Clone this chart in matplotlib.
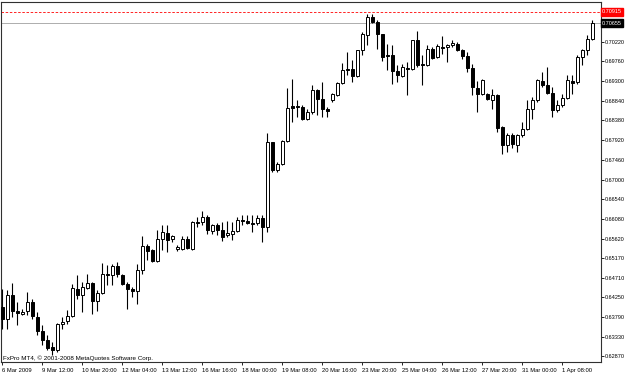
import matplotlib
matplotlib.use('Agg')
import matplotlib.pyplot as plt
import numpy as np

# H4 candles, EUR-ish pair
opens = [
    0.6402, 0.6374, 0.6430, 0.6393, 0.6386, 0.6393, 0.6414, 0.6379, 0.6346, 0.6325,
    0.6309, 0.6302, 0.6363, 0.6370, 0.6381, 0.6444, 0.6430, 0.6447, 0.6458, 0.6416,
    0.6435, 0.6479, 0.6477, 0.6498, 0.6477, 0.6456, 0.6444, 0.6440, 0.6489, 0.6545,
    0.6536, 0.6510, 0.6561, 0.6575, 0.6561, 0.6538, 0.6538, 0.6561, 0.6538, 0.6601,
    0.6601, 0.6613, 0.6580, 0.6594, 0.6582, 0.6571, 0.6573, 0.6580, 0.6606, 0.6603,
    0.6599, 0.6599, 0.6610, 0.6589, 0.6788, 0.6723, 0.6737, 0.6790, 0.6872, 0.6872,
    0.6870, 0.6842, 0.6858, 0.6909, 0.6888, 0.6865, 0.6886, 0.6898, 0.6926, 0.6958,
    0.6958, 0.6942, 0.7003, 0.7038, 0.7080, 0.7068, 0.7040, 0.6991, 0.6991, 0.6954,
    0.6942, 0.6961, 0.6959, 0.7026, 0.6970, 0.6968, 0.7005, 0.6987, 0.7010, 0.7010,
    0.7015, 0.7017, 0.7003, 0.6989, 0.6961, 0.6914, 0.6900, 0.6900, 0.6886, 0.6898,
    0.6823, 0.6781, 0.6804, 0.6781, 0.6804, 0.6818, 0.6865, 0.6886, 0.6930, 0.6921,
    0.6902, 0.6863, 0.6874, 0.6891, 0.6930, 0.6928, 0.6987, 0.7003, 0.7029]
highs = [
    0.6444, 0.6442, 0.6458, 0.6414, 0.6398, 0.6437, 0.6421, 0.6391, 0.6360, 0.6337,
    0.6321, 0.6365, 0.6379, 0.6395, 0.6456, 0.6477, 0.6461, 0.6479, 0.6461, 0.6442,
    0.6505, 0.6500, 0.6503, 0.6507, 0.6479, 0.6461, 0.6449, 0.6503, 0.6568, 0.6550,
    0.6538, 0.6582, 0.6594, 0.6594, 0.6571, 0.6547, 0.6568, 0.6568, 0.6603, 0.6613,
    0.6627, 0.6617, 0.6596, 0.6599, 0.6601, 0.6603, 0.6601, 0.6613, 0.6617, 0.6617,
    0.6617, 0.6617, 0.6617, 0.6809, 0.6788, 0.6741, 0.6793, 0.6914, 0.6935, 0.6886,
    0.6874, 0.6865, 0.6921, 0.6912, 0.6928, 0.6870, 0.6902, 0.6928, 0.6972, 0.6998,
    0.6980, 0.7003, 0.7045, 0.7087, 0.7087, 0.7073, 0.7040, 0.7017, 0.7015, 0.6968,
    0.6970, 0.6975, 0.7026, 0.7047, 0.6991, 0.7015, 0.7010, 0.7017, 0.7036, 0.7017,
    0.7026, 0.7022, 0.7005, 0.6998, 0.6970, 0.6930, 0.6935, 0.6902, 0.6912, 0.6900,
    0.6825, 0.6809, 0.6809, 0.6807, 0.6835, 0.6886, 0.6893, 0.6935, 0.6951, 0.6963,
    0.6916, 0.6886, 0.6900, 0.6944, 0.6944, 0.6991, 0.7005, 0.7038, 0.7073]
lows = [
    0.6351, 0.6351, 0.6379, 0.6360, 0.6384, 0.6384, 0.6374, 0.6337, 0.6314, 0.6302,
    0.6290, 0.6297, 0.6351, 0.6363, 0.6379, 0.6421, 0.6391, 0.6444, 0.6386, 0.6393,
    0.6433, 0.6454, 0.6454, 0.6472, 0.6454, 0.6398, 0.6426, 0.6409, 0.6479, 0.6512,
    0.6507, 0.6507, 0.6536, 0.6531, 0.6554, 0.6533, 0.6536, 0.6538, 0.6536, 0.6589,
    0.6594, 0.6573, 0.6573, 0.6571, 0.6557, 0.6566, 0.6559, 0.6578, 0.6594, 0.6596,
    0.6578, 0.6594, 0.6554, 0.6578, 0.6718, 0.6718, 0.6734, 0.6788, 0.6835, 0.6846,
    0.6839, 0.6839, 0.6853, 0.6851, 0.6846, 0.6846, 0.6881, 0.6895, 0.6923, 0.6944,
    0.6928, 0.6940, 0.6991, 0.7015, 0.7066, 0.7005, 0.6977, 0.6956, 0.6923, 0.6928,
    0.6940, 0.6898, 0.6956, 0.6963, 0.6921, 0.6966, 0.6982, 0.6984, 0.6994, 0.6975,
    0.7010, 0.7001, 0.6982, 0.6951, 0.6898, 0.6858, 0.6898, 0.6886, 0.6865, 0.6811,
    0.6760, 0.6765, 0.6774, 0.6765, 0.6800, 0.6816, 0.6842, 0.6881, 0.6916, 0.6900,
    0.6846, 0.6858, 0.6870, 0.6888, 0.6900, 0.6923, 0.6968, 0.6991, 0.7026]
closes = [
    0.6374, 0.6430, 0.6393, 0.6388, 0.6391, 0.6414, 0.6381, 0.6346, 0.6325, 0.6307,
    0.6302, 0.6363, 0.6367, 0.6381, 0.6447, 0.6430, 0.6449, 0.6458, 0.6416, 0.6435,
    0.6479, 0.6477, 0.6498, 0.6479, 0.6456, 0.6444, 0.6440, 0.6489, 0.6545, 0.6533,
    0.6510, 0.6561, 0.6578, 0.6559, 0.6568, 0.6543, 0.6561, 0.6540, 0.6601, 0.6599,
    0.6613, 0.6582, 0.6594, 0.6582, 0.6566, 0.6575, 0.6580, 0.6606, 0.6603, 0.6599,
    0.6596, 0.6610, 0.6589, 0.6788, 0.6723, 0.6737, 0.6790, 0.6867, 0.6867, 0.6870,
    0.6842, 0.6858, 0.6909, 0.6888, 0.6865, 0.6860, 0.6900, 0.6926, 0.6956, 0.6956,
    0.6942, 0.7003, 0.7040, 0.7080, 0.7068, 0.7040, 0.6986, 0.6989, 0.6954, 0.6944,
    0.6963, 0.6959, 0.7026, 0.6968, 0.6968, 0.7005, 0.6984, 0.7012, 0.7008, 0.7015,
    0.7019, 0.7003, 0.6989, 0.6961, 0.6916, 0.6900, 0.6933, 0.6888, 0.6898, 0.6821,
    0.6781, 0.6804, 0.6783, 0.6804, 0.6818, 0.6865, 0.6886, 0.6933, 0.6921, 0.6902,
    0.6863, 0.6874, 0.6891, 0.6933, 0.6926, 0.6987, 0.7003, 0.7029, 0.70655]

date_labels = ['6 Mar 2009', '9 Mar 12:00', '10 Mar 20:00', '12 Mar 04:00', '13 Mar 12:00',
               '16 Mar 16:00', '18 Mar 00:00', '19 Mar 08:00', '20 Mar 16:00', '23 Mar 20:00',
               '25 Mar 04:00', '26 Mar 12:00', '27 Mar 20:00', '31 Mar 00:00', '1 Apr 08:00']
price_ticks = [0.70220, 0.69760, 0.69300, 0.68840, 0.68380, 0.67920, 0.67460, 0.67000,
               0.66540, 0.66080, 0.65620, 0.65170, 0.64710, 0.64250, 0.63790, 0.63330, 0.62870]
alert_price = 0.70915
bid_price = 0.70655

plt.rcParams['font.family'] = ['Liberation Sans', 'DejaVu Sans']

fig = plt.figure(figsize=(6.25, 3.73), dpi=100)
ax = fig.add_axes([1 / 625, 11 / 373, 600 / 625, 360 / 373])

o = np.array(opens)
h = np.array(highs)
l = np.array(lows)
c = np.array(closes)
x = np.arange(len(o))
up = c >= o

# wicks
ax.vlines(x, l, h, color='black', linewidth=0.8, zorder=2)
# bodies
bottom = np.minimum(o, c)
height = np.maximum(np.abs(c - o), 0.00003)
ax.bar(x[up], height[up], bottom=bottom[up], width=0.6, facecolor='white',
       edgecolor='black', linewidth=0.7, zorder=3)
ax.bar(x[~up], height[~up], bottom=bottom[~up], width=0.6, facecolor='black',
       edgecolor='black', linewidth=0.7, zorder=3)

# alert and bid lines
ax.axhline(alert_price, color='red', linewidth=0.6, linestyle=(0, (3, 2)), zorder=1)
ax.axhline(bid_price, color='#a0a0a0', linewidth=0.6, zorder=1)

ax.set_xlim(-0.2, 119.8)
ax.set_ylim(0.62737, 0.71148)

ax.yaxis.tick_right()
ax.set_yticks(price_ticks)
ax.set_yticklabels([f'{p:.5f}' for p in price_ticks])
ax.tick_params(axis='y', direction='out', length=2, width=0.6, pad=1, labelsize=4.0)

ax.set_xticks(np.arange(len(date_labels)) * 8)
ax.set_xticklabels(date_labels, ha='left')
ax.tick_params(axis='x', direction='out', length=2.5, width=0.6, pad=1.5, labelsize=4.2)

for s in ax.spines.values():
    s.set_linewidth(0.8)
    s.set_color('#303030')

# price boxes on the right scale
ax.text(1.002, alert_price, '0.70915', transform=ax.get_yaxis_transform(), fontsize=4.0,
        color='white', va='center', ha='left',
        bbox=dict(facecolor='red', edgecolor='red', pad=0.8))
ax.text(1.002, bid_price, '0.70655', transform=ax.get_yaxis_transform(), fontsize=4.0,
        color='white', va='center', ha='left',
        bbox=dict(facecolor='black', edgecolor='black', pad=0.8))

ax.text(0.004, 0.004, 'FxPro MT4, © 2001-2008 MetaQuotes Software Corp.',
        transform=ax.transAxes, fontsize=4.5, va='bottom', ha='left')

fig.savefig('out.png', dpi=100)
